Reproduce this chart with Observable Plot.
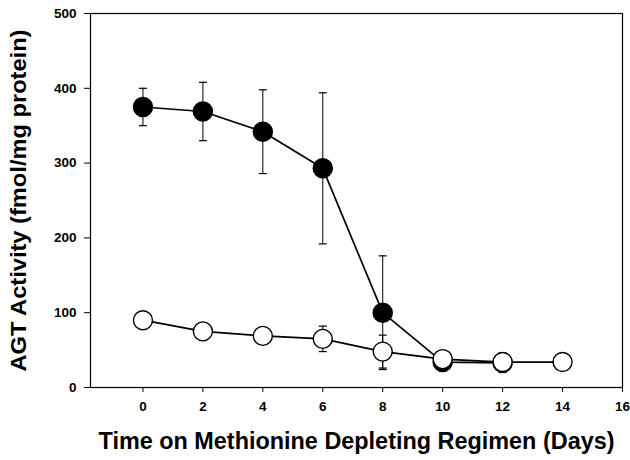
<!DOCTYPE html>
<html><head><meta charset="utf-8">
<script src="https://cdn.jsdelivr.net/npm/d3@7"></script>
<script src="https://cdn.jsdelivr.net/npm/@observablehq/plot@0.6"></script>
<style>body{margin:0;background:#fff} svg{display:block}</style>
</head><body><div id="chart"></div>
<script>
const closedDays = [0, 2, 4, 6, 8, 10, 12];
const closedMean = [375, 369, 342, 293, 100, 34, 33];
const closedErr  = [25, 39, 56, 101, 76, 0, 13];
const openDays = [0, 2, 4, 6, 8, 10, 12, 14];
const openMean = [90, 75, 69, 65, 48, 38, 34, 34];
const openErr  = [0, 0, 0, 17, 22, 0, 0, 0];
const xTicks = [0, 2, 4, 6, 8, 10, 12, 14, 16];
const yTicks = [0, 100, 200, 300, 400, 500];
const xTitle = "Time on Methionine Depleting Regimen (Days)";
const yTitle = "AGT Activity (fmol/mg protein)";

const closed = closedDays.map((x, i) => ({x, y: closedMean[i], e: closedErr[i]}));
const open = openDays.map((x, i) => ({x, y: openMean[i], e: openErr[i]}));
const withErr = a => a.filter(d => d.e > 0);
const caps = a => withErr(a).flatMap(d => [{x: d.x, y: d.y + d.e}, {x: d.x, y: d.y - d.e}]);
const capSymbol = {draw(ctx) { ctx.moveTo(-4, 0); ctx.lineTo(4, 0); }};

const chart = Plot.plot({
  width: 630, height: 460,
  marginLeft: 90, marginRight: 8, marginTop: 13, marginBottom: 73,
  style: {fontFamily: "'Liberation Sans', Arial, sans-serif", fontWeight: "bold", fontSize: "13px", color: "black", background: "white"},
  x: {domain: [-1.75, 16], axis: null},
  y: {domain: [0, 500], axis: null},
  marks: [
    Plot.frame({stroke: "black", strokeWidth: 1.2}),
    Plot.axisX(xTicks, {tickFormat: d => String(d), tickSize: 5, tickPadding: 9, label: null, fontSize: 13, fontWeight: "bold", stroke: "black", fill: "black"}),
    Plot.axisY(yTicks, {tickFormat: d => String(d), tickSize: 6, tickPadding: 8, label: null, fontSize: 13, fontWeight: "bold", stroke: "black", fill: "black"}),
    Plot.ruleX(withErr(closed), {x: "x", y1: d => d.y - d.e, y2: d => d.y + d.e, stroke: "black", strokeWidth: 1}),
    Plot.dot(caps(closed), {x: "x", y: "y", symbol: capSymbol, fill: "none", stroke: "black", strokeWidth: 1.2}),
    Plot.ruleX(withErr(open), {x: "x", y1: d => d.y - d.e, y2: d => d.y + d.e, stroke: "black", strokeWidth: 1}),
    Plot.dot(caps(open), {x: "x", y: "y", symbol: capSymbol, fill: "none", stroke: "black", strokeWidth: 1.2}),
    Plot.line(closed, {x: "x", y: "y", stroke: "black", strokeWidth: 1.7}),
    Plot.line(open, {x: "x", y: "y", stroke: "black", strokeWidth: 1.7}),
    Plot.dot(closed, {x: "x", y: "y", r: 9.5, fill: "black", stroke: "black"}),
    Plot.dot(open, {x: "x", y: "y", r: 9.5, fill: "white", stroke: "black", strokeWidth: 1.4}),
    Plot.text([xTitle], {frameAnchor: "bottom", lineAnchor: "middle", textAnchor: "middle", dy: 54, fontSize: 23, fontWeight: "bold", fill: "black"}),
    Plot.text([yTitle], {frameAnchor: "left", lineAnchor: "middle", textAnchor: "middle", rotate: -90, dx: -72, fontSize: 22, fontWeight: "bold", fill: "black"})
  ]
});
document.getElementById("chart").appendChild(chart);
const tickLabels = new Set([...xTicks, ...yTicks].map(String));
d3.select(chart).selectAll("text").each(function() {
  const t = this.textContent;
  if (t === xTitle) d3.select(this).attr("textLength", 516).attr("lengthAdjust", "spacingAndGlyphs");
  else if (t === yTitle) d3.select(this).attr("textLength", 342).attr("lengthAdjust", "spacingAndGlyphs");
  else if (tickLabels.has(t)) d3.select(this).style("font-size", "13.5px").style("font-weight", "bold");
});
</script>
</body></html>
